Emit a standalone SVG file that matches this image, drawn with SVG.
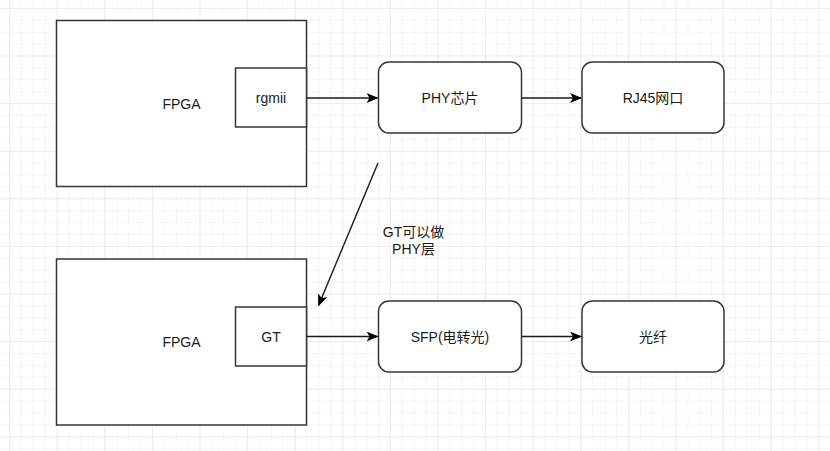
<svg xmlns="http://www.w3.org/2000/svg" width="830" height="451" viewBox="0 0 830 451">
<defs>
<pattern id="minor" x="9.1" y="7.9" width="11.9" height="11.9" patternUnits="userSpaceOnUse">
<path d="M0 0H11.9M0 0V11.9" fill="none" stroke="#f0f0f0" stroke-width="1"/>
</pattern>
<pattern id="major" x="9.1" y="7.9" width="47.6" height="47.6" patternUnits="userSpaceOnUse">
<path d="M0 0H47.6M0 0V47.6" fill="none" stroke="#e2e2e2" stroke-width="1"/>
</pattern>
<marker id="arr" viewBox="0 0 12 10" refX="11" refY="5" markerWidth="12" markerHeight="10" markerUnits="userSpaceOnUse" orient="auto">
<path d="M0 0L12 5L0 10L3 5Z" fill="#000"/>
</marker>
</defs>
<style>
.box{fill:#fff;stroke:#363636;stroke-width:1.5}
.t{font-family:"Liberation Sans","Noto Sans CJK SC",sans-serif;font-size:14px;fill:#1a1a1a;text-anchor:middle;dominant-baseline:central}
.c{fill:none;stroke:#1a1a1a;stroke-width:1.4}
</style>
<rect width="830" height="451" fill="#fff"/>
<rect width="830" height="451" fill="url(#minor)"/>
<rect width="830" height="451" fill="url(#major)"/>
<g id="fpga1">
<rect class="box" x="56.5" y="20.5" width="250" height="166"/>
<text class="t" x="181.5" y="104">FPGA</text>
</g>
<g id="rgmii">
<rect class="box" x="235.5" y="68" width="71" height="59"/>
<text class="t" x="271" y="98">rgmii</text>
</g>
<g id="fpga2">
<rect class="box" x="56.5" y="259" width="250" height="166"/>
<text class="t" x="181.5" y="342">FPGA</text>
</g>
<g id="gt">
<rect class="box" x="235.5" y="307" width="71" height="59"/>
<text class="t" x="271" y="336.5">GT</text>
</g>
<g id="phy">
<rect class="box" x="378.5" y="62" width="143" height="71" rx="10.5"/>
<text class="t" x="450" y="98">PHY芯片</text>
</g>
<g id="rj45">
<rect class="box" x="582" y="62" width="142" height="71" rx="10.5"/>
<text class="t" x="653" y="98">RJ45网口</text>
</g>
<g id="sfp">
<rect class="box" x="378.5" y="301" width="143" height="71" rx="10.5"/>
<text class="t" x="450" y="336.5">SFP(电转光)</text>
</g>
<g id="fiber">
<rect class="box" x="582" y="301" width="142" height="71" rx="10.5"/>
<text class="t" x="653" y="336.5">光纤</text>
</g>
<g id="connectors">
<line class="c" x1="306.5" y1="98" x2="377.5" y2="98" marker-end="url(#arr)"/>
<line class="c" x1="521.5" y1="98" x2="581" y2="98" marker-end="url(#arr)"/>
<line class="c" x1="306.5" y1="336.5" x2="377.5" y2="336.5" marker-end="url(#arr)"/>
<line class="c" x1="521.5" y1="336.5" x2="581" y2="336.5" marker-end="url(#arr)"/>
<line class="c" x1="378" y1="163" x2="318.5" y2="305.5" marker-end="url(#arr)"/>
<text class="t" x="413.5" y="232.3">GT可以做</text>
<text class="t" x="413.5" y="248.7">PHY层</text>
</g>
</svg>
